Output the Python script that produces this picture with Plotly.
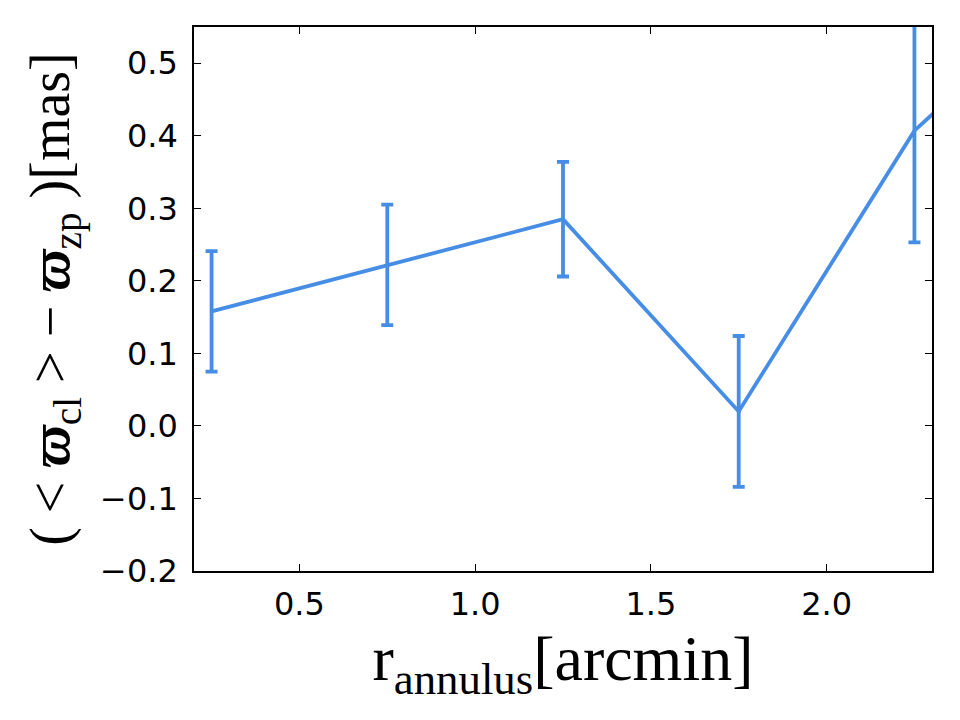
import plotly.graph_objects as go

r_annulus = [0.25, 0.75, 1.25, 1.75, 2.25, 2.75]
parallax_diff = [0.158, 0.222, 0.285, 0.020, 0.407, 0.63]
parallax_err = [0.083, 0.083, 0.079, 0.104, 0.154, 0.15]

x_ticks = [0.5, 1.0, 1.5, 2.0]
y_ticks = [-0.2, -0.1, 0.0, 0.1, 0.2, 0.3, 0.4, 0.5]

color = "#468DE6"

fig = go.Figure()
fig.add_trace(go.Scatter(
    x=r_annulus, y=parallax_diff, mode="lines",
    line=dict(color=color, width=3.8),
    error_y=dict(type="data", array=parallax_err, visible=True,
                 color=color, thickness=3.8, width=6),
    showlegend=False, cliponaxis=True,
))

axis_common = dict(
    showline=True, linecolor="black", linewidth=1.6, mirror="allticks",
    ticks="inside", ticklen=7, tickwidth=1, tickcolor="black",
    showgrid=False, zeroline=False,
    tickfont=dict(family="DejaVu Sans", size=32, color="black"),
)

fig.update_xaxes(
    range=[0.2, 2.3], tickvals=x_ticks,
    ticktext=[f"{v:.1f}" for v in x_ticks],
    ticklabelstandoff=4,
    title=dict(text="r<sub>annulus</sub>[arcmin]",
               font=dict(family="Liberation Serif", size=64, color="black"),
               standoff=6),
    **axis_common,
)
fig.update_yaxes(
    range=[-0.2, 0.55], tickvals=y_ticks,
    ticktext=[("\u2212" if v < 0 else "") + f"{abs(v):.1f}" for v in y_ticks],
    ticklabelstandoff=8,
    title=dict(text="( &lt; <b><i>\u03d6</i></b><sub>cl</sub> &gt; \u2212 <b><i>\u03d6</i></b><sub>zp</sub> )[mas]",
               font=dict(family="Liberation Serif", size=56, color="black"),
               standoff=12),
    **axis_common,
)

fig.update_layout(
    width=960, height=720,
    margin=dict(l=194, r=28, t=27, b=149),
    plot_bgcolor="white", paper_bgcolor="white",
)

fig.write_html("out.html")
